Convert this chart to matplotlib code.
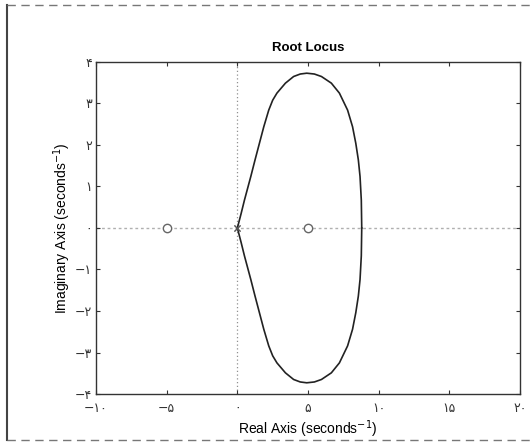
import matplotlib
matplotlib.use("Agg")
import matplotlib.pyplot as plt
from matplotlib.lines import Line2D

# Upper branch of the root locus (real, imaginary); the lower branch is its conjugate
locus_re = [0.0, 0.26, 0.50, 0.95, 1.25, 1.56, 1.87, 2.22, 2.50, 2.80, 3.40, 3.98,
            4.45, 4.91, 5.45, 5.95, 6.65, 7.22, 7.80, 8.15, 8.38, 8.56, 8.68, 8.77, 8.80]
locus_im = [0.0, 0.34, 0.67, 1.24, 1.64, 2.04, 2.44, 2.84, 3.08, 3.25, 3.49, 3.65,
            3.71, 3.73, 3.71, 3.65, 3.49, 3.25, 2.84, 2.44, 2.04, 1.64, 1.24, 0.67, 0.0]

zeros_re = [-5.0, 5.0]
poles_re = [0.0, 0.0]

x_ticks = [-10, -5, 0, 5, 10, 15, 20]
x_tick_labels = ["−۱۰", "−۵", "۰", "۵", "۱۰", "۱۵", "۲۰"]
y_ticks = [-4, -3, -2, -1, 0, 1, 2, 3, 4]
y_tick_labels = ["−۴", "−۳", "−۲", "−۱", "۰", "۱", "۲", "۳", "۴"]

plt.rcParams["font.family"] = ["Liberation Sans", "DejaVu Sans"]

fig = plt.figure(figsize=(5.32, 4.45), dpi=100)
fig.patch.set_facecolor("white")
ax = fig.add_axes([0.1805, 0.1146, 0.797, 0.7461])

# dotted reference axes through the origin
ax.axhline(0, color="#b0b0b0", lw=1.0, ls=(0, (2, 2)), zorder=1)
ax.axvline(0, color="#909090", lw=0.9, ls=(0, (1, 2)), zorder=1)

# locus branches
ax.plot(locus_re, locus_im, color="#222222", lw=1.2, zorder=3)
ax.plot(locus_re, [-v for v in locus_im], color="#222222", lw=1.2, zorder=3)

# open-loop zeros and poles
ax.plot(zeros_re, [0, 0], ls="none", marker="o", ms=6, mfc="white",
        mec="#666666", mew=1.0, zorder=4)
ax.plot(poles_re, [0, 0], ls="none", marker="x", ms=4, color="#555555",
        mew=0.8, zorder=4)

ax.set_xlim(-10, 20)
ax.set_ylim(-4, 4)
ax.set_xticks(x_ticks)
ax.set_xticklabels(x_tick_labels, family=["DejaVu Sans"], fontsize=9)
ax.set_yticks(y_ticks)
ax.set_yticklabels(y_tick_labels, family=["DejaVu Sans"], fontsize=9)
ax.tick_params(direction="in", length=3, width=0.8, top=True, right=True,
               colors="#333333")
ax.tick_params(axis="x", pad=6)
ax.tick_params(axis="y", pad=3)
for s in ax.spines.values():
    s.set_color("#333333")
    s.set_linewidth(1.0)

ax.set_title("Root Locus", fontsize=9.5, fontweight="bold", pad=8)
ax.set_xlabel("Real Axis (seconds$^{-1}$)", fontsize=10, labelpad=2)
ax.set_ylabel("Imaginary Axis (seconds$^{-1}$)", fontsize=10, labelpad=1)

# page frame around the figure
fig.add_artist(Line2D([0.013, 0.013], [0.012, 0.988], transform=fig.transFigure,
                      color="#444444", lw=1.5))
fig.add_artist(Line2D([0.013, 1.0], [0.988, 0.988], transform=fig.transFigure,
                      color="#777777", lw=1.0, ls=(0, (6, 4))))
fig.add_artist(Line2D([0.013, 1.0], [0.012, 0.012], transform=fig.transFigure,
                      color="#777777", lw=1.0, ls=(0, (6, 4))))

fig.savefig("out.png", dpi=100, facecolor="white")
